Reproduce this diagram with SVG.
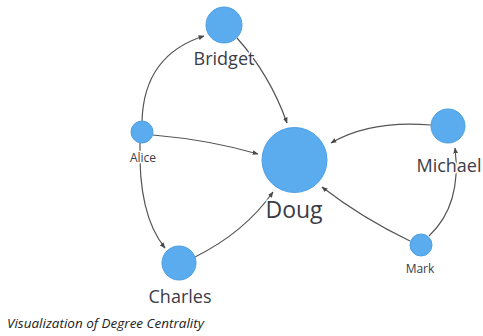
<svg xmlns="http://www.w3.org/2000/svg" width="483" height="336" viewBox="0 0 483 336">
<defs>
<marker id="arr" viewBox="0 0 10 10" refX="9" refY="5" markerWidth="6" markerHeight="6" orient="auto" markerUnits="userSpaceOnUse">
<path d="M0,1 L10,5 L0,9 Z" fill="#4a4a4a"/>
</marker>
</defs>
<style>
.edge{fill:none;stroke:#555;stroke-width:1.2;marker-end:url(#arr)}
.node{fill:#5aacee;stroke:#4d9fe2;stroke-width:1}
.lbl{font-family:"Open Sans","Liberation Sans",sans-serif;fill:#3a3c48;text-anchor:middle;stroke:#fff;stroke-width:3;paint-order:stroke;stroke-linejoin:round}
.big{font-size:18px}
.small{font-size:12px}
.cap{font-family:"Open Sans","Liberation Sans",sans-serif;font-style:italic;font-size:13.5px;fill:#222}
</style>
<rect width="483" height="336" fill="#fff"/>
<g id="connectors">
<path class="edge" d="M142,121 Q144,55 204,36"/>
<path class="edge" d="M237,38 Q270,75 287,123"/>
<path class="edge" d="M153,135 Q210,140 258,154"/>
<path class="edge" d="M140,143 Q138,215 165,248"/>
<path class="edge" d="M195,257 Q245,232 273,192"/>
<path class="edge" d="M431,125 Q370,120 331,143"/>
<path class="edge" d="M410,241 Q362,218 322,187"/>
<path class="edge" d="M429,236 Q462,205 455,148"/>
</g>
<g id="Doug"><circle class="node" cx="294.5" cy="160" r="32.5"/><text class="lbl" x="294" y="218" font-size="23">Doug</text></g>
<g id="Bridget"><circle class="node" cx="224" cy="25" r="18"/><text class="lbl big" x="224" y="65">Bridget</text></g>
<g id="Alice"><circle class="node" cx="142" cy="132" r="11"/><text class="lbl small" x="143" y="162">Alice</text></g>
<g id="Charles"><circle class="node" cx="179" cy="263" r="17"/><text class="lbl big" x="180" y="303">Charles</text></g>
<g id="Michael"><circle class="node" cx="448" cy="126" r="17"/><text class="lbl big" x="449" y="172">Michael</text></g>
<g id="Mark"><circle class="node" cx="421" cy="245" r="11"/><text class="lbl small" x="420" y="273">Mark</text></g>
<text class="cap" x="7" y="328">Visualization of Degree Centrality</text>
</svg>
